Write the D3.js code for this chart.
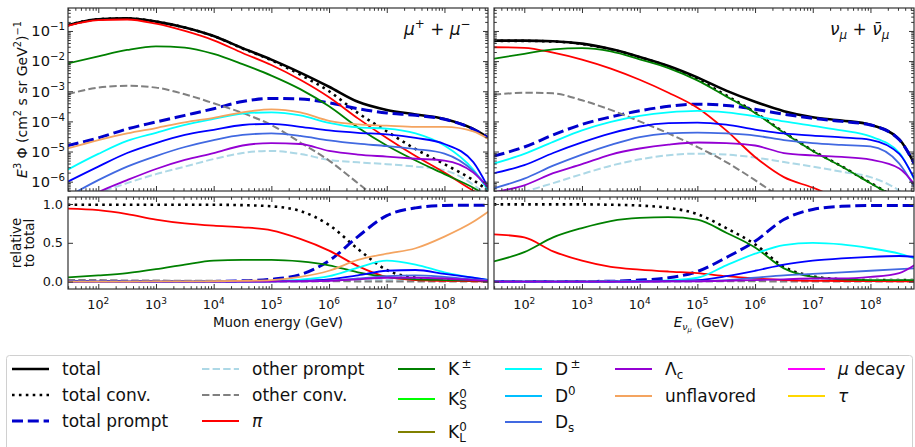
<!DOCTYPE html>
<html>
<head>
<meta charset="utf-8">
<script src="https://cdn.jsdelivr.net/npm/d3@7"></script>
<style>
body { margin: 0; background: #fff; }
svg text { font-family: "DejaVu Sans", sans-serif; fill: #111; }
</style>
</head>
<body>
<script>
// energy grid, log10(E / GeV)
var logE = [1.47, 2, 2.5, 3, 3.5, 4, 4.5, 5, 5.5, 6, 6.5, 7, 7.5, 8, 8.5, 8.76];

// muons: log10 of E^3 Phi
var muTotal       = [-0.81, -0.61, -0.58, -0.69, -0.885, -1.17, -1.57, -1.95, -2.38, -2.85, -3.35, -3.62, -3.77, -3.92, -4.25, -4.54];
var muConv        = [-0.81, -0.61, -0.58, -0.69, -0.885, -1.17, -1.58, -1.97, -2.45, -3.00, -3.72, -4.33, -4.92, -5.42, -5.95, -6.3];
var muPrompt      = [-4.80, -4.55, -4.25, -4.02, -3.80, -3.58, -3.34, -3.24, -3.26, -3.38, -3.58, -3.72, -3.80, -3.93, -4.26, -4.55];
var muOtherPrompt = [-7.0, -6.4, -6.05, -5.75, -5.50, -5.25, -5.05, -4.98, -5.08, -5.28, -5.36, -5.42, -5.50, -5.62, -6.1, -6.5];
var muOtherConv   = [-3.10, -2.88, -2.82, -2.88, -3.10, -3.40, -3.72, -4.12, -4.70, -5.30, -6.05, -6.8, -7.5, -8, -8.5, -9];
var muPi          = [-0.83, -0.64, -0.62, -0.76, -1.00, -1.31, -1.73, -2.13, -2.62, -3.20, -3.90, -4.55, -5.15, -5.70, -6.3, -6.6];
var muK           = [-2.08, -1.84, -1.63, -1.51, -1.55, -1.76, -2.10, -2.48, -2.93, -3.50, -4.20, -4.80, -5.30, -5.75, -6.2, -6.5];
var muDpm         = [-5.60, -5.08, -4.65, -4.38, -4.12, -3.92, -3.74, -3.70, -3.80, -4.05, -4.20, -4.24, -4.40, -4.80, -5.6, -6.3];
var muD0          = [-6.00, -5.50, -5.05, -4.72, -4.45, -4.28, -4.12, -4.08, -4.18, -4.30, -4.38, -4.43, -4.55, -4.75, -5.35, -6.2];
var muDs          = [-6.5, -5.95, -5.50, -5.15, -4.85, -4.62, -4.45, -4.40, -4.48, -4.63, -4.74, -4.82, -4.92, -5.07, -5.65, -6.2];
var muLc          = [-6.9, -6.35, -5.95, -5.58, -5.28, -5.05, -4.80, -4.72, -4.75, -4.98, -5.10, -5.17, -5.24, -5.30, -5.70, -6.2];
var muUnfl        = [-4.90, -4.62, -4.40, -4.22, -4.03, -3.88, -3.70, -3.60, -3.70, -3.98, -4.10, -4.14, -4.18, -4.18, -4.33, -4.58];

// muon neutrinos: log10 of E^3 Phi
var nuTotal       = [-1.32, -1.32, -1.34, -1.42, -1.60, -1.86, -2.16, -2.54, -2.98, -3.35, -3.66, -3.86, -3.97, -4.11, -4.60, -5.40];
var nuConv        = [-1.33, -1.33, -1.35, -1.43, -1.61, -1.87, -2.18, -2.60, -3.14, -3.70, -4.36, -4.97, -5.49, -6.04, -6.6, -6.9];
var nuPrompt      = [-5.15, -4.85, -4.45, -4.10, -3.85, -3.65, -3.50, -3.43, -3.47, -3.60, -3.76, -3.90, -4.00, -4.12, -4.61, -5.41];
var nuOtherPrompt = [-6.8, -6.35, -6.05, -5.75, -5.47, -5.26, -5.12, -5.07, -5.10, -5.20, -5.35, -5.50, -5.67, -5.85, -6.3, -6.7];
var nuOtherConv   = [-3.12, -3.05, -3.07, -3.30, -3.62, -4.00, -4.40, -4.85, -5.35, -5.95, -6.6, -7.2, -7.8, -8.4, -9, -9.3];
var nuPi          = [-1.54, -1.56, -1.72, -1.95, -2.25, -2.62, -3.05, -3.55, -4.30, -5.18, -5.85, -6.2, -6.6, -7, -7.4, -7.6];
var nuK           = [-1.92, -1.76, -1.61, -1.57, -1.68, -1.94, -2.23, -2.64, -3.17, -3.72, -4.38, -4.98, -5.50, -6.05, -6.6, -6.9];
var nuDpm         = [-5.40, -5.08, -4.68, -4.30, -4.02, -3.82, -3.70, -3.65, -3.70, -3.83, -4.00, -4.15, -4.30, -4.50, -5.04, -5.93];
var nuD0          = [-5.72, -5.45, -5.05, -4.70, -4.40, -4.17, -4.06, -4.04, -4.11, -4.27, -4.40, -4.47, -4.53, -4.61, -5.08, -5.90];
var nuDs          = [-6.22, -5.90, -5.47, -5.10, -4.78, -4.52, -4.40, -4.37, -4.40, -4.47, -4.62, -4.72, -4.78, -4.83, -5.40, -6.17];
var nuLc          = [-6.35, -6.12, -5.72, -5.42, -5.10, -4.90, -4.77, -4.70, -4.72, -4.80, -5.05, -5.13, -5.18, -5.27, -5.56, -6.08];

// muons: fraction of total
var muFrConv        = [0.99, 0.99, 0.99, 0.99, 0.99, 0.99, 0.985, 0.97, 0.91, 0.73, 0.42, 0.15, 0.05, 0.02, 0.015, 0.015];
var muFrPrompt      = [0, 0, 0, 0, 0.001, 0.003, 0.01, 0.03, 0.09, 0.27, 0.58, 0.85, 0.95, 0.98, 0.985, 0.985];
var muFrOtherPrompt = [0, 0, 0, 0, 0, 0, 0, 0.001, 0.002, 0.006, 0.015, 0.02, 0.02, 0.015, 0.01, 0.005];
var muFrOtherConv   = [0.02, 0.02, 0.015, 0.015, 0.01, 0.01, 0.008, 0.006, 0.005, 0.004, 0.003, 0.002, 0.001, 0, 0, 0];
var muFrPi          = [0.94, 0.92, 0.87, 0.80, 0.75, 0.72, 0.70, 0.66, 0.55, 0.40, 0.20, 0.06, 0.02, 0.01, 0.005, 0.003];
var muFrK           = [0.055, 0.08, 0.11, 0.16, 0.22, 0.27, 0.28, 0.28, 0.26, 0.21, 0.12, 0.06, 0.03, 0.02, 0.015, 0.01];
var muFrDpm         = [0, 0, 0, 0, 0.001, 0.002, 0.004, 0.008, 0.025, 0.07, 0.18, 0.27, 0.22, 0.12, 0.05, 0.02];
var muFrD0          = [0, 0, 0, 0, 0, 0.001, 0.002, 0.004, 0.01, 0.03, 0.08, 0.14, 0.15, 0.10, 0.05, 0.02];
var muFrDs          = [0, 0, 0, 0, 0, 0, 0.001, 0.002, 0.005, 0.015, 0.04, 0.07, 0.08, 0.06, 0.03, 0.02];
var muFrLc          = [0, 0, 0, 0, 0, 0, 0.001, 0.002, 0.004, 0.01, 0.03, 0.05, 0.05, 0.04, 0.02, 0.01];
var muFrUnfl        = [0.001, 0.001, 0.001, 0.002, 0.003, 0.005, 0.01, 0.02, 0.06, 0.14, 0.28, 0.36, 0.43, 0.58, 0.77, 0.90];

// muon neutrinos: fraction of total
var nuFrConv        = [0.995, 0.995, 0.995, 0.995, 0.99, 0.98, 0.95, 0.87, 0.69, 0.48, 0.19, 0.07, 0.03, 0.02, 0.02, 0.02];
var nuFrPrompt      = [0, 0, 0, 0.002, 0.005, 0.02, 0.05, 0.13, 0.31, 0.52, 0.80, 0.93, 0.97, 0.98, 0.98, 0.98];
var nuFrOtherPrompt = [0, 0, 0, 0, 0, 0, 0.001, 0.003, 0.008, 0.015, 0.02, 0.02, 0.02, 0.02, 0.02, 0.02];
var nuFrOtherConv   = [0.006, 0.008, 0.009, 0.008, 0.007, 0.006, 0.006, 0.006, 0.005, 0.004, 0.002, 0.001, 0, 0, 0, 0];
var nuFrPi          = [0.61, 0.57, 0.39, 0.27, 0.19, 0.155, 0.13, 0.11, 0.07, 0.04, 0.02, 0.01, 0.008, 0.006, 0.005, 0.005];
var nuFrK           = [0.26, 0.38, 0.57, 0.69, 0.78, 0.82, 0.83, 0.80, 0.63, 0.44, 0.17, 0.06, 0.03, 0.02, 0.02, 0.02];
var nuFrDpm         = [0, 0, 0, 0, 0.002, 0.005, 0.015, 0.05, 0.21, 0.36, 0.47, 0.50, 0.48, 0.43, 0.36, 0.30];
var nuFrD0          = [0, 0, 0, 0, 0.001, 0.003, 0.008, 0.02, 0.07, 0.14, 0.22, 0.27, 0.30, 0.32, 0.33, 0.32];
var nuFrDs          = [0, 0, 0, 0, 0, 0.001, 0.003, 0.008, 0.02, 0.05, 0.08, 0.10, 0.12, 0.14, 0.16, 0.17];
var nuFrLc          = [0, 0, 0, 0, 0, 0.001, 0.002, 0.004, 0.01, 0.02, 0.03, 0.04, 0.04, 0.06, 0.11, 0.21];

// axis ticks
var xTickExp = [2, 3, 4, 5, 6, 7, 8];
var yTickExp = [-1, -2, -3, -4, -5, -6];
var fracTicks = [0.0, 0.5, 1.0];

var order = ["total", "conv", "prompt", "otherPrompt", "otherConv", "pi", "kpm", "k0s", "k0l",
             "dpm", "d0", "ds", "lc", "unfl", "mudec", "tau"];

var styles = {
  total:       {color: "#000000", w: 2.6},
  conv:        {color: "#000000", w: 2.6, dash: "2.6,4.3"},
  prompt:      {color: "#0000cc", w: 3, dash: "11,4.8"},
  otherPrompt: {color: "#add8e6", w: 2, dash: "7.4,3.2"},
  otherConv:   {color: "#808080", w: 2, dash: "7.4,3.2"},
  pi:          {color: "#ff0000", w: 1.8},
  kpm:         {color: "#008000", w: 1.8},
  k0s:         {color: "#00ff00", w: 1.8},
  k0l:         {color: "#808000", w: 1.8},
  dpm:         {color: "#00ffff", w: 1.8},
  d0:          {color: "#0000ff", w: 1.8, legend: "#00bfff"},
  ds:          {color: "#4169e1", w: 1.8},
  lc:          {color: "#9400d3", w: 1.8},
  unfl:        {color: "#f4a460", w: 1.8},
  mudec:       {color: "#ff00ff", w: 1.8},
  tau:         {color: "#ffd700", w: 1.8}
};

var labels = {
  total: [["total"]], conv: [["total conv."]], prompt: [["total prompt"]],
  otherPrompt: [["other prompt"]], otherConv: [["other conv."]], pi: [["π", "it"]],
  kpm: [["K"], ["\u2009±", "sup"]], k0s: [["K"], ["0", "sup"], ["S", "subBack"]],
  k0l: [["K"], ["0", "sup"], ["L", "subBack"]],
  dpm: [["D"], ["\u2009±", "sup"]], d0: [["D"], ["0", "sup"]], ds: [["D"], ["s", "sub"]],
  lc: [["Λ"], ["c", "sub"]], unfl: [["unflavored"]], mudec: [["μ", "it"], [" decay"]], tau: [["τ", "it"]]
};

var svg = d3.select("body").append("svg").attr("width", 915).attr("height", 447);

var cols = [[68, 488], [494, 914]];
var topRow = [8, 191], botRow = [197, 289];

var yFlux = d3.scaleLog().domain([Math.pow(10, -6.31), Math.pow(10, -0.238)]).range([topRow[1], topRow[0]]);
var yFrac = d3.scaleLinear().domain([-0.095, 1.09]).range([botRow[1], botRow[0]]);

// small helper for super/subscripts
function rich(t, parts, size) {
  var shift = 0;
  parts.forEach(function(p) {
    var kind = p[1] || "", target = 0, fs = size;
    if (kind === "sup") { target = -0.42 * size; fs = 0.7 * size; }
    if (kind === "sub" || kind === "subBack" || kind === "subIt") { target = 0.25 * size; fs = 0.7 * size; }
    var ts = t.append("tspan").attr("font-size", fs).attr("dy", target - shift).text(p[0]);
    if (kind === "it" || kind === "subIt") ts.attr("font-style", "italic");
    if (kind === "subBack") ts.attr("dx", -0.636 * 0.7 * size);
    shift = target;
  });
}

var xMinor = [], yMinor = [];
for (var n = 1; n <= 8; n++) for (var k = 2; k <= 9; k++) xMinor.push(k * Math.pow(10, n));
for (var n = -7; n <= -1; n++) for (var k = 2; k <= 9; k++) yMinor.push(k * Math.pow(10, n));

function ticks(axisFn, scale, vals, size, tr) {
  var dom = scale.domain();
  vals = vals.filter(function(v) { return v >= Math.min(dom[0], dom[1]) && v <= Math.max(dom[0], dom[1]); });
  svg.append("g").attr("transform", tr).attr("color", "#333")
    .call(axisFn(scale).tickValues(vals).tickSize(-size).tickFormat(""))
    .call(function(g) { g.select(".domain").remove(); });
}

var panels = [
  {col: 0, row: "top", d: {total: muTotal, conv: muConv, prompt: muPrompt, otherPrompt: muOtherPrompt,
     otherConv: muOtherConv, pi: muPi, kpm: muK, dpm: muDpm, d0: muD0, ds: muDs, lc: muLc, unfl: muUnfl}},
  {col: 1, row: "top", d: {total: nuTotal, conv: nuConv, prompt: nuPrompt, otherPrompt: nuOtherPrompt,
     otherConv: nuOtherConv, pi: nuPi, kpm: nuK, dpm: nuDpm, d0: nuD0, ds: nuDs, lc: nuLc}},
  {col: 0, row: "bot", d: {conv: muFrConv, prompt: muFrPrompt, otherPrompt: muFrOtherPrompt,
     otherConv: muFrOtherConv, pi: muFrPi, kpm: muFrK, dpm: muFrDpm, d0: muFrD0, ds: muFrDs, lc: muFrLc, unfl: muFrUnfl}},
  {col: 1, row: "bot", d: {conv: nuFrConv, prompt: nuFrPrompt, otherPrompt: nuFrOtherPrompt,
     otherConv: nuFrOtherConv, pi: nuFrPi, kpm: nuFrK, dpm: nuFrDpm, d0: nuFrD0, ds: nuFrDs, lc: nuFrLc}}
];

panels.forEach(function(p, i) {
  var c = cols[p.col], r = p.row === "top" ? topRow : botRow;
  var x = d3.scaleLog().domain([Math.pow(10, 1.475), Math.pow(10, 8.755)]).range(c);
  var y = p.row === "top" ? function(v) { return yFlux(Math.pow(10, v)); } : yFrac;
  var ys = p.row === "top" ? yFlux : yFrac;

  svg.append("clipPath").attr("id", "clip" + i).append("rect")
    .attr("x", c[0]).attr("y", r[0]).attr("width", c[1] - c[0]).attr("height", r[1] - r[0]);

  var line = d3.line()
    .x(function(d) { return x(Math.pow(10, d[0])); })
    .y(function(d) { return y(d[1]); })
    .curve(d3.curveMonotoneX);

  var g = svg.append("g").attr("clip-path", "url(#clip" + i + ")");
  order.forEach(function(key) {
    if (!p.d[key]) return;
    var st = styles[key];
    g.append("path")
      .datum(logE.map(function(e, j) { return [e, p.d[key][j]]; }))
      .attr("d", line)
      .attr("fill", "none")
      .attr("stroke", st.color)
      .attr("stroke-width", st.w)
      .attr("stroke-dasharray", st.dash || null);
  });

  // ticks, pointing inwards on all four sides
  var xMajor = xTickExp.map(function(e) { return Math.pow(10, e); });
  ticks(d3.axisBottom, x, xMajor, 5, "translate(0," + r[1] + ")");
  ticks(d3.axisBottom, x, xMinor, 2.8, "translate(0," + r[1] + ")");
  ticks(d3.axisTop, x, xMajor, 5, "translate(0," + r[0] + ")");
  ticks(d3.axisTop, x, xMinor, 2.8, "translate(0," + r[0] + ")");
  if (p.row === "top") {
    var yMajor = yTickExp.map(function(e) { return Math.pow(10, e); });
    ticks(d3.axisLeft, ys, yMajor, 5, "translate(" + c[0] + ",0)");
    ticks(d3.axisLeft, ys, yMinor, 2.8, "translate(" + c[0] + ",0)");
    ticks(d3.axisRight, ys, yMajor, 5, "translate(" + c[1] + ",0)");
    ticks(d3.axisRight, ys, yMinor, 2.8, "translate(" + c[1] + ",0)");
  } else {
    ticks(d3.axisLeft, ys, fracTicks, 5, "translate(" + c[0] + ",0)");
    ticks(d3.axisRight, ys, fracTicks, 5, "translate(" + c[1] + ",0)");
  }

  svg.append("rect").attr("x", c[0]).attr("y", r[0]).attr("width", c[1] - c[0]).attr("height", r[1] - r[0])
    .attr("fill", "none").attr("stroke", "#333").attr("stroke-width", 1.2);

  // tick labels
  if (p.row === "bot") {
    xTickExp.forEach(function(e) {
      var t = svg.append("text").attr("x", x(Math.pow(10, e))).attr("y", 309)
        .attr("text-anchor", "middle").attr("font-size", 12.8);
      rich(t, [["10"], [String(e), "sup"]], 12.8);
    });
  }
  if (p.col === 0 && p.row === "top") {
    yTickExp.forEach(function(e) {
      var t = svg.append("text").attr("x", 65).attr("y", yFlux(Math.pow(10, e)) + 5.3)
        .attr("text-anchor", "end").attr("font-size", 14.6);
      rich(t, [["10"], ["−" + (-e), "sup"]], 14.6);
    });
  }
  if (p.col === 0 && p.row === "bot") {
    fracTicks.forEach(function(v) {
      svg.append("text").attr("x", 63).attr("y", yFrac(v) + 4.6)
        .attr("text-anchor", "end").attr("font-size", 12.8).text(v.toFixed(1));
    });
  }
});

// axis titles
var yl = svg.append("text").attr("transform", "translate(27," + (topRow[0] + topRow[1]) / 2 + ") rotate(-90)")
  .attr("text-anchor", "middle").attr("font-size", 14);
rich(yl, [["E", "it"], ["3", "sup"], [" Φ (cm"], ["2", "sup"], [" s sr GeV"], ["2", "sup"], [")"], ["−1", "sup"]], 14);

var rl = svg.append("text").attr("transform", "translate(21," + (botRow[0] + botRow[1]) / 2 + ") rotate(-90)")
  .attr("text-anchor", "middle").attr("font-size", 13.4);
rl.append("tspan").attr("x", 0).text("relative");
rl.append("tspan").attr("x", 0).attr("dy", 13).text("to total");

svg.append("text").attr("x", (cols[0][0] + cols[0][1]) / 2).attr("y", 327)
  .attr("text-anchor", "middle").attr("font-size", 13.4).text("Muon energy (GeV)");
var xl = svg.append("text").attr("x", (cols[1][0] + cols[1][1]) / 2).attr("y", 327)
  .attr("text-anchor", "middle").attr("font-size", 13.4);
xl.append("tspan").attr("font-style", "italic").text("E");
xl.append("tspan").attr("font-style", "italic").attr("font-size", 9.4).attr("dy", 3).text("ν");
xl.append("tspan").attr("font-style", "italic").attr("font-size", 6.7).attr("dy", 2).text("μ");
xl.append("tspan").attr("dy", -5).text(" (GeV)");

// panel annotations
var a1 = svg.append("text").attr("x", cols[0][0] + 0.8 * (cols[0][1] - cols[0][0])).attr("y", 35).attr("font-size", 17);
rich(a1, [["μ", "it"], ["+", "sup"], [" + "], ["μ", "it"], ["−", "sup"]], 17);
var a2 = svg.append("text").attr("x", cols[1][0] + 0.8 * (cols[1][1] - cols[1][0])).attr("y", 35).attr("font-size", 17);
rich(a2, [["ν", "it"], ["μ", "subIt"], [" + "], ["ν\u0304", "it"], ["μ", "subIt"]], 17);

// legend
var legendCols = [["total", "conv", "prompt"], ["otherPrompt", "otherConv", "pi"], ["kpm", "k0s", "k0l"],
                  ["dpm", "d0", "ds"], ["lc", "unfl"], ["mudec", "tau"]];
var colX = [12, 202, 398, 505, 615, 788];
var rowY = [[369, 395, 421], [369, 395, 421], [369, 399, 432], [369, 396, 422], [369, 396], [369, 396]];

svg.append("rect").attr("x", 6.5).attr("y", 355.5).attr("width", 906).attr("height", 110).attr("rx", 3)
  .attr("fill", "#fff").attr("stroke", "#d0d0d0").attr("stroke-width", 1);

legendCols.forEach(function(keys, ci) {
  keys.forEach(function(key, ri) {
    var st = styles[key], yy = rowY[ci][ri];
    svg.append("line").attr("x1", colX[ci]).attr("x2", colX[ci] + 37).attr("y1", yy).attr("y2", yy)
      .attr("stroke", st.legend || st.color).attr("stroke-width", st.w)
      .attr("stroke-dasharray", st.dash || null);
    var t = svg.append("text").attr("x", colX[ci] + 50).attr("y", yy + 6).attr("font-size", 17);
    rich(t, labels[key], 17);
  });
});
</script>
</body>
</html>
